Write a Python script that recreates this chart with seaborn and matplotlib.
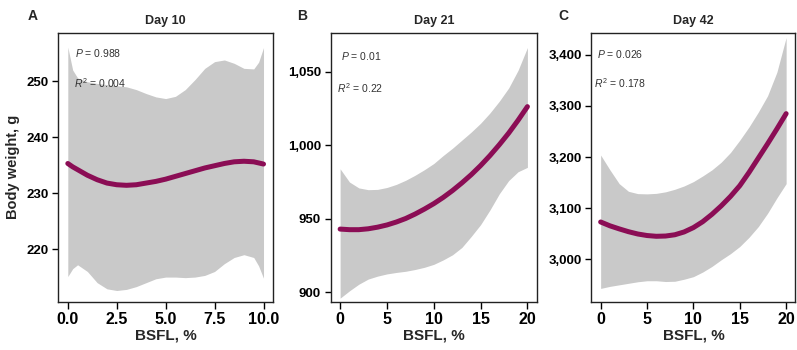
import numpy as np
import pandas as pd
import matplotlib
matplotlib.use("Agg")
import matplotlib.pyplot as plt
import seaborn as sns

# ---------------- data ----------------
a_x = [0, 0.25, 0.5, 1, 1.5, 2, 2.5, 3, 3.5, 4, 4.5, 5, 5.5, 6, 6.5, 7, 7.5, 8, 8.5, 9, 9.5, 9.75, 10]
a_fit = [235.3, 234.7, 234.2, 233.2, 232.4, 231.8, 231.5, 231.4, 231.5, 231.8, 232.1, 232.5,
         233.0, 233.5, 234.0, 234.5, 234.9, 235.3, 235.6, 235.7, 235.6, 235.4, 235.2]
a_upper = [256.1, 252.0, 250.6, 249.9, 249.6, 249.4, 249.2, 249.0, 248.5, 247.8, 247.2, 246.9,
           247.3, 248.5, 250.3, 252.3, 253.5, 253.8, 253.2, 252.3, 252.2, 253.4, 256.0]
a_lower = [215.1, 216.5, 217.2, 216.0, 214.0, 212.9, 212.6, 212.8, 213.3, 214.0, 214.7, 215.0,
           215.0, 214.9, 215.0, 215.3, 216.0, 217.4, 218.5, 219.0, 218.5, 217.0, 214.8]

b_x = list(range(0, 21))
b_fit = [943.0, 942.6, 942.6, 943.2, 944.3, 945.8, 947.8, 950.2, 953.2, 956.6, 960.3,
         964.5, 969.2, 974.4, 980.0, 986.2, 993.0, 1000.4, 1008.3, 1017.0, 1026.3]
b_upper = [984.0, 975.0, 971.0, 969.8, 970.0, 971.3, 973.4, 976.2, 979.6, 983.4, 987.6,
           993.0, 998.0, 1003.5, 1009.0, 1015.0, 1022.0, 1030.0, 1039.0, 1051.0, 1066.5]
b_lower = [896.0, 901.0, 905.5, 909.0, 911.0, 912.5, 913.5, 914.3, 915.5, 917.0, 919.0,
           922.0, 925.5, 930.5, 938.0, 946.0, 956.0, 967.0, 976.0, 982.0, 985.0]

c_x = list(range(0, 21))
c_fit = [3073, 3065.5, 3059.5, 3054, 3049.5, 3046.5, 3045, 3045.5, 3048, 3053.5, 3062,
         3073.5, 3088, 3104.5, 3123, 3144, 3170, 3198, 3226, 3255, 3285]
c_upper = [3204, 3175, 3148, 3133, 3128.5, 3128, 3129, 3132, 3137, 3143.5, 3152,
           3163, 3175, 3190, 3209, 3233, 3259, 3288, 3320, 3366, 3434]
c_lower = [2943, 2947, 2950, 2953, 2956, 2958, 2958, 2956.5, 2957, 2961, 2966,
           2975, 2986, 2999, 3011, 3025, 3043, 3064, 3090, 3120, 3148]

titles = ["Day 10", "Day 21", "Day 42"]
panel_letters = ["A", "B", "C"]
p_texts = ["0.988", "0.01", "0.026"]
r2_texts = ["0.004", "0.22", "0.178"]
a_xticks = [0.0, 2.5, 5.0, 7.5, 10.0]
bc_xticks = [0, 5, 10, 15, 20]
a_yticks = [220, 230, 240, 250]
b_yticks = [900, 950, 1000, 1050]
c_yticks = [3000, 3100, 3200, 3300, 3400]

# ---------------- style ----------------
sns.set_style("ticks")
plt.rcParams["font.family"] = ["Liberation Sans Narrow", "Liberation Sans", "DejaVu Sans"]
plt.rcParams["mathtext.fontset"] = "custom"
plt.rcParams["mathtext.rm"] = "Liberation Sans"
plt.rcParams["mathtext.it"] = "Liberation Sans:italic"

LINE = "#8B0D55"
BAND = "#c9c9c9"

fig = plt.figure(figsize=(7.97, 3.5), dpi=100)
positions = [
    [0.0728, 0.138, 0.2701, 0.769],
    [0.4150, 0.138, 0.2585, 0.769],
    [0.7420, 0.138, 0.2560, 0.769],
]

panels = [
    (a_x, a_fit, a_lower, a_upper, (-0.5, 10.5), (210.6, 258.7), a_xticks,
     ["0.0", "2.5", "5.0", "7.5", "10.0"], a_yticks),
    (b_x, b_fit, b_lower, b_upper, (-1, 21), (893.6, 1076.7), bc_xticks,
     [str(v) for v in bc_xticks], b_yticks),
    (c_x, c_fit, c_lower, c_upper, (-1, 21), (2917, 3443.7), bc_xticks,
     [str(v) for v in bc_xticks], c_yticks),
]
text_pos = [
    ((0.079, 0.923), (0.072, 0.811)),
    ((0.049, 0.914), (0.029, 0.793)),
    ((0.030, 0.919), (0.014, 0.813)),
]
letter_x = [32.5 / 797, 302 / 797, 563 / 797]

for i, (x, fit, lo, hi, xlim, ylim, xt, xtl, yt) in enumerate(panels):
    ax = fig.add_axes(positions[i])
    ax.fill_between(x, lo, hi, color=BAND, lw=0, zorder=1)
    df = pd.DataFrame({"BSFL": x, "BW": fit})
    sns.lineplot(data=df, x="BSFL", y="BW", ax=ax, color=LINE, lw=3.6,
                 solid_capstyle="round", zorder=3)
    ax.set_xlim(*xlim)
    ax.set_ylim(*ylim)
    ax.set_xticks(xt, xtl, fontsize=11.5, fontweight="bold")
    ax.set_yticks(yt, [f"{v:,}" for v in yt], fontsize=9.5, fontweight="bold")
    ax.tick_params(axis="x", direction="out", length=5, width=1, pad=2.5, colors="black")
    ax.tick_params(axis="y", direction="out", length=4.5, width=1, pad=2.5, colors="black")
    for s in ax.spines.values():
        s.set_visible(True)
        s.set_linewidth(1.0)
        s.set_color("#222222")
    ax.set_xlabel("BSFL, %", fontsize=11, fontweight="bold", labelpad=1)
    if i == 0:
        ax.set_ylabel("Body weight, g", fontsize=10.5, fontweight="bold",
                      family=["Liberation Sans", "DejaVu Sans"], labelpad=4)
    else:
        ax.set_ylabel("")
    ax.set_title(titles[i], fontsize=9, fontweight="bold", pad=6)
    (px, py), (rx, ry) = text_pos[i]
    ax.text(px, py, r"$P$ = " + p_texts[i], transform=ax.transAxes, fontsize=7.5,
            color="#333333", ha="left", va="center", family=["Liberation Sans", "DejaVu Sans"])
    ax.text(rx, ry, r"$R^2$ = " + r2_texts[i], transform=ax.transAxes, fontsize=7.5,
            color="#333333", ha="left", va="center", family=["Liberation Sans", "DejaVu Sans"])
    fig.text(letter_x[i], 1 - 16 / 350, panel_letters[i], fontsize=10, fontweight="bold",
             ha="center", va="center", family=["Liberation Sans", "DejaVu Sans"])

fig.savefig("out.png", dpi=100)
